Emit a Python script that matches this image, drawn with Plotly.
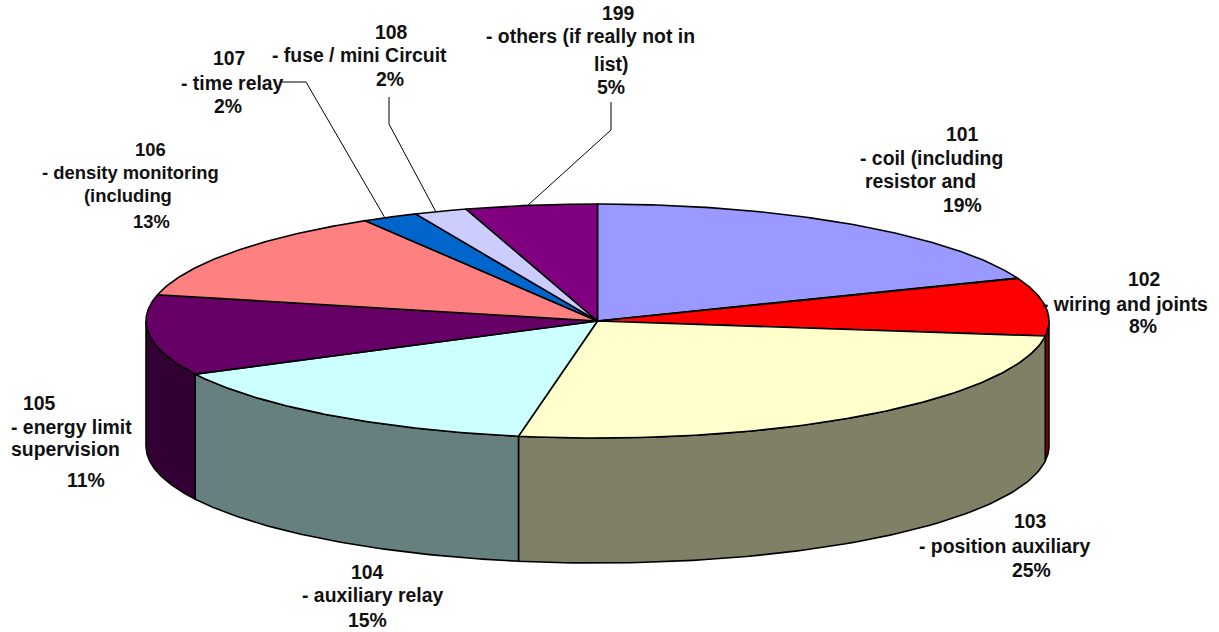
import numpy as np
import plotly.graph_objects as go

codes = ["101", "102", "103", "104", "105", "106", "107", "108", "199"]
shares = [19.0, 8.05, 25.75, 14.7, 11.1, 12.8, 2.0, 1.9, 4.7]
top_colors = ["#9999FF", "#FF0000", "#FFFFCC", "#CCFFFF", "#660066", "#FF8080", "#0066CC", "#CCCCFF", "#800080"]
wall_colors = ["#4D4D80", "#800000", "#808066", "#668080", "#330033", "#804040", "#003366", "#666680", "#400040"]

label_lines = [
    ["101", "- coil (including", "resistor and", "19%"],
    ["102", "- wiring and joints", "8%"],
    ["103", "- position auxiliary", "25%"],
    ["104", "- auxiliary relay", "15%"],
    ["105", "- energy limit", "supervision", "11%"],
    ["106", "- density monitoring", "(including", "13%"],
    ["107", "- time relay", "2%"],
    ["108", "- fuse / mini Circuit", "2%"],
    ["199", "- others (if really not in", "list)", "5%"],
]
label_x = [
    [962, 931, 920, 962],
    [1144, 1125, 1143],
    [1030, 1005, 1031],
    [367, 372, 367],
    [39, 71, 65, 86],
    [150, 130, 128, 151],
    [229, 232, 228],
    [391, 359, 390],
    [618, 590, 611, 611],
]
label_y = [
    [134, 158, 181, 205],
    [279, 304, 326],
    [521, 546, 570],
    [572, 595, 620],
    [403, 427, 449, 480],
    [149, 172, 195, 221],
    [58, 83, 106],
    [32, 55, 79],
    [13, 36, 64, 87],
]
label_size = [19.4, 19.4, 19.4, 19.4, 19.4, 18.4, 19.4, 19.4, 19.4]
leaders = [
    ([282, 306, 385], [82, 82, 218]),
    ([389, 389, 436], [97, 124, 212]),
    ([611, 611, 527], [102, 130, 206]),
]

CX, CY, RX, RY, DEPTH = 597.5, 321, 451.5, 117, 125
PAGE_W, PAGE_H = 1219, 632


def ellipse(deg):
    t = np.radians(deg)
    return CX + RX * np.sin(t), CY - RY * np.cos(t)


fig = go.Figure()
edges = np.concatenate([[0], np.cumsum(shares)]) * 3.6
outline = dict(color="black", width=1.6)


def add_poly(x, y, color):
    fig.add_trace(go.Scatter(x=x, y=y, mode="lines", fill="toself", fillcolor=color,
                             line=outline, hoverinfo="skip", showlegend=False))


for i in range(len(shares)):
    a, b = max(edges[i], 90), min(edges[i + 1], 270)
    if a < b:
        x, y = ellipse(np.linspace(a, b, 80))
        add_poly(np.r_[x, x[::-1], x[0]], np.r_[y, y[::-1] + DEPTH, y[0]], wall_colors[i])

for i in range(len(shares)):
    x, y = ellipse(np.linspace(edges[i], edges[i + 1], 120))
    add_poly(np.r_[CX, x, CX], np.r_[CY, y, CY], top_colors[i])

for lx, ly in leaders:
    fig.add_trace(go.Scatter(x=lx, y=ly, mode="lines", line=dict(color="black", width=1),
                             hoverinfo="skip", showlegend=False))

annotations = []
for lines, xs, ys, size in zip(label_lines, label_x, label_y, label_size):
    for text, ax, ay in zip(lines, xs, ys):
        annotations.append(dict(x=ax, y=ay, xref="x", yref="y", text=f"<b>{text}</b>", showarrow=False,
                                font=dict(family="Liberation Sans, Arial, sans-serif", size=size, color="#111111"),
                                xanchor="center", yanchor="middle"))

fig.update_layout(
    width=PAGE_W, height=PAGE_H, margin=dict(l=0, r=0, t=0, b=0),
    paper_bgcolor="white", plot_bgcolor="white", showlegend=False,
    xaxis=dict(range=[0, PAGE_W], visible=False, fixedrange=True),
    yaxis=dict(range=[PAGE_H, 0], visible=False, fixedrange=True),
    annotations=annotations,
)
fig.write_html("out.html", config=dict(displayModeBar=False),
               post_script="document.body.style.margin='0';document.body.style.overflow='hidden';")
